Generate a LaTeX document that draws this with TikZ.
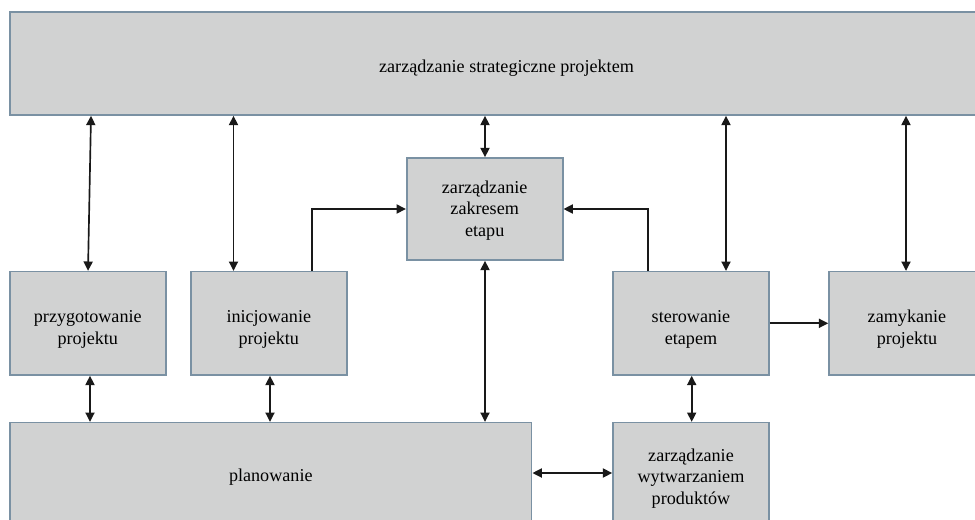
\documentclass[tikz,border=0pt]{standalone}
\usepackage{fontspec}
\setmainfont{Liberation Serif}
\usetikzlibrary{arrows.meta}
\definecolor{boxfill}{RGB}{209,210,210}
\definecolor{boxedge}{RGB}{122,145,163}
\begin{document}
\begin{tikzpicture}[x=0.75pt,y=-0.75pt,
  procbox/.style={draw=boxedge,fill=boxfill,line width=1.2pt,inner sep=0pt},
  boxtext/.style={align=center,inner sep=0pt,font=\fontsize{13.6}{16.2}\selectfont},
  tip/.style={Triangle[length=7pt,width=6.8pt]},
  link/.style={line width=1.25pt,draw=black!90,-{Triangle[length=7pt,width=6.8pt]}},
  bilink/.style={line width=1.25pt,draw=black!90,{Triangle[length=7pt,width=6.8pt]}-{Triangle[length=7pt,width=6.8pt]}}]
\useasboundingbox (0,0) rectangle (975,519);
\clip (0,0) rectangle (975,519);

% process boxes, each with its caption centred a little low
\node[procbox,minimum width=744.75pt,minimum height=77.25pt,
  label={[boxtext,yshift=-3.75pt]center:zarządzanie strategiczne projektem}] (top) at (506.5,63.5) {};
\node[procbox,minimum width=117pt,minimum height=76.5pt,
  label={[boxtext,yshift=-1.1pt]center:zarządzanie\\zakresem\\etapu}] (zak) at (484.7,209) {};
\node[procbox,minimum width=117pt,minimum height=77.5pt,
  label={[boxtext,yshift=-4.5pt]center:przygotowanie\\projektu}] (prz) at (87.8,323.3) {};
\node[procbox,minimum width=117pt,minimum height=77.5pt,
  label={[boxtext,yshift=-4.5pt]center:inicjowanie\\projektu}] (ini) at (268.8,323.3) {};
\node[procbox,minimum width=117pt,minimum height=77.5pt,
  label={[boxtext,yshift=-4.5pt]center:sterowanie\\etapem}] (ste) at (691,323.3) {};
\node[procbox,minimum width=117pt,minimum height=77.5pt,
  label={[boxtext,yshift=-4.5pt]center:zamykanie\\projektu}] (zam) at (907,323.3) {};
\node[procbox,minimum width=391.3pt,minimum height=79pt,
  label={[boxtext,yshift=-1.5pt]center:planowanie}] (pla) at (270.8,475.3) {};
\node[procbox,minimum width=117pt,minimum height=79pt,
  label={[boxtext,yshift=-2.25pt]center:zarządzanie\\wytwarzaniem\\produktów}] (wyt) at (691,475.3) {};

% links to the strategic level
\draw[bilink] (top.south -| 91,0) -- (prz.north -| 88,0);
\draw[bilink] (top.south -| 233.5,0) -- (ini.north -| 233.5,0);
\draw[bilink] (top.south -| 485,0) -- (zak.north -| 485,0);
\draw[bilink] (top.south -| 726,0) -- (ste.north -| 726,0);
\draw[bilink] (top.south -| 906,0) -- (zam.north -| 906,0);

% stage scope management
\draw[link] (ini.north -| 312,0) |- (zak.west);
\draw[link] (ste.north -| 648,0) |- (zak.east);
\draw[bilink] (zak.south -| 485,0) -- (pla.north -| 485,0);

% planning and delivery
\draw[bilink] (prz.south -| 90,0) -- (pla.north -| 90,0);
\draw[bilink] (ini.south -| 270,0) -- (pla.north -| 270,0);
\draw[link] (ste.east) -- (zam.west);
\draw[bilink] (ste.south -| 691.7,0) -- (wyt.north -| 691.7,0);
\draw[bilink] (pla.east |- 0,473) -- (wyt.west |- 0,473);
\end{tikzpicture}
\end{document}
